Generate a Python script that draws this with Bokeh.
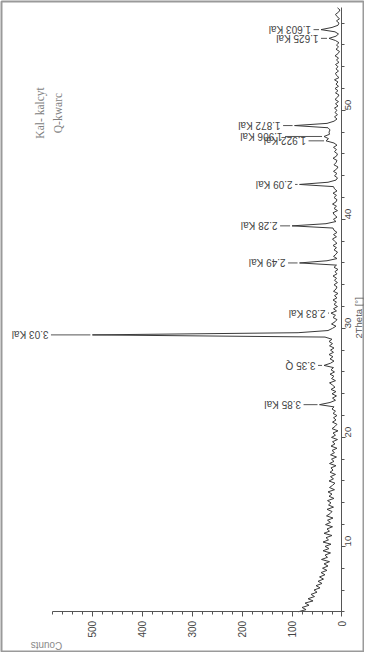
import math
from bokeh.plotting import figure
from bokeh.models import Range1d, FixedTicker, Label, ColumnDataSource, LinearAxis
from bokeh.core.properties import value
from bokeh.embed import file_html
from bokeh.resources import INLINE

# ---------------- data ----------------
scan_start = 4.0   # 2Theta of first point [deg]
scan_step = 0.2    # scan step [deg]

counts = [
    88, 72, 80, 66, 74, 58, 68, 55, 62, 50,    # 4.0
    56, 44, 52, 40, 48, 37, 45, 34, 42, 30,    # 6.0
    39, 28, 36, 25, 41, 29, 34, 23, 38, 26,    # 8.0
    34, 22, 38, 27, 32, 20, 36, 25, 30, 19,    # 10.0
    33, 23, 29, 18, 31, 24, 20, 30, 17, 27,    # 12.0
    22, 29, 16, 26, 20, 28, 15, 25, 19, 14,    # 14.0
    26, 17, 23, 13, 24, 18, 22, 12, 25, 16,    # 16.0
    21, 11, 23, 15, 20, 10, 22, 14, 19, 9,     # 18.0
    21, 13, 18, 8, 20, 14, 10, 19, 12, 17,     # 20.0
    10, 18, 13, 20, 16, 45, 24, 13, 19, 11,    # 22.0
    20, 12, 22, 14, 19, 25, 13, 21, 16, 24,    # 24.0
    15, 22, 17, 36, 23, 16, 24, 18, 26, 17,    # 26.0
    23, 16, 25, 19, 26, 20, 34, 500, 88, 28,   # 28.0
    19, 12, 21, 14, 10, 18, 13, 22, 11, 17,    # 30.0
    9, 16, 11, 18, 10, 15, 8, 17, 12, 10,      # 32.0
    16, 9, 15, 11, 18, 10, 14, 8, 16, 11,      # 34.0
    85, 30, 10, 17, 12, 9, 16, 11, 18, 10,     # 36.0
    15, 19, 11, 17, 10, 16, 18, 100, 32, 12,   # 38.0
    17, 10, 15, 18, 9, 16, 11, 19, 12, 10,     # 40.0
    16, 11, 18, 10, 15, 17, 85, 28, 12, 9,     # 42.0
    15, 10, 17, 11, 8, 16, 12, 10, 18, 11,     # 44.0
    9, 15, 11, 17, 10, 16, 32, 27, 36, 25,     # 46.0
    26, 24, 28, 95, 30, 16, 10, 15, 9, 14,     # 48.0
    10, 15, 8, 13, 7, 14, 9, 6, 13, 8,         # 50.0
    14, 7, 12, 8, 15, 6, 11, 13, 7, 12,        # 52.0
    8, 13, 6, 11, 7, 14, 8, 5, 12, 7,          # 54.0
    11, 6, 13, 26, 12, 7, 14, 42, 20, 8,       # 56.0
    6, 11, 5, 10, 13, 7, 4, 9,                 # 58.0
]
two_theta = [round(scan_start + scan_step * i, 1) for i in range(len(counts))]

peak_labels = ["3.85 Kal", "3.35 Q", "3.03 Kal", "2.83 Kal", "2.49 Kal", "2.28 Kal",
               "2.09 Kal", "1.922 Kal", "1.906 Kal", "1.872 Kal", "1.625 Kal", "1.603 Kal"]
peak_2theta = [23.0, 26.6, 29.4, 31.4, 36.0, 39.4, 43.2, 47.2, 47.6, 48.6, 56.6, 57.4]
label_counts = [82, 53, 588, 33, 113, 129, 99, 72, 119, 123, 47, 62]

legend_lines = ["Kal- kalcyt", "Q-kwarc"]
count_ticks = [0, 100, 200, 300, 400, 500]
count_minor = [20 * k for k in range(30)]
theta_ticks = [10, 20, 30, 40, 50]
theta_minor = [4 + 2 * k for k in range(28)]

# ---------------- figure ----------------
p = figure(width=364, height=652, output_backend="svg", toolbar_location=None,
           x_range=Range1d(682.1, -43.1), y_range=Range1d(0.36, 59.98),
           y_axis_location="right",
           min_border_left=1, min_border_top=1, min_border_right=1, min_border_bottom=1)
p.outline_line_color = "#9a9a9a"
p.outline_line_width = 2
p.grid.visible = False
p.background_fill_color = "white"
p.border_fill_color = "white"

ink = "#3a3a3a"
p.line(counts, two_theta, line_color=ink, line_width=1)

# leaders from labels to peak tops
idx = [round((t - scan_start) / scan_step) for t in peak_2theta]
lead_x0, lead_x1, lead_y = [], [], []
for lc, t, i in zip(label_counts, peak_2theta, idx):
    s = lc - 5
    e = counts[i] + 4
    if s > e:
        lead_x0.append(s); lead_x1.append(e); lead_y.append(t)
p.segment(x0=lead_x0, y0=lead_y, x1=lead_x1, y1=lead_y, line_color="#555555", line_width=1)

src = ColumnDataSource(dict(x=label_counts, y=peak_2theta, t=peak_labels))
p.text(x="x", y="y", text="t", source=src, angle=math.pi, text_align="left",
       text_baseline="middle", text_font=value("Liberation Sans"),
       text_font_size="10px", text_color="#444444")

# legend text (rotated)
p.add_layout(Label(x=604, y=47.4, text=legend_lines[0], angle=math.pi / 2,
                   text_align="left", text_baseline="middle",
                   text_font="Liberation Serif", text_font_size="11.5px", text_color="#808080"))
p.add_layout(Label(x=569, y=47.9, text=legend_lines[1], angle=math.pi / 2,
                   text_align="left", text_baseline="middle",
                   text_font="Liberation Serif", text_font_size="11.5px", text_color="#808080"))

# Counts title (upside down, near the far end of the counts axis)
p.add_layout(Label(x=592, y=0.95, text="Counts", angle=math.pi,
                   text_align="center", text_baseline="middle",
                   text_font="Liberation Sans", text_font_size="10px", text_color="#8a8a8a"))

# axes, drawn at fixed data locations inside the frame
xa = p.xaxis[0]
xa.fixed_location = 4.0
xa.bounds = (0, 580)
xa.ticker = FixedTicker(ticks=count_ticks, minor_ticks=count_minor)
xa.major_label_orientation = math.pi / 2
xa.major_label_text_font = "Liberation Sans"
xa.major_label_text_font_size = "10px"
xa.major_label_text_color = "#444444"
xa.major_label_standoff = 4
xa.axis_line_color = "#555555"
xa.major_tick_line_color = "#555555"
xa.minor_tick_line_color = "#555555"
xa.major_tick_out = 5
xa.major_tick_in = 0
xa.minor_tick_out = 3
xa.minor_tick_in = 0

ya = p.yaxis[0]
ya.fixed_location = 0
ya.bounds = (4.0, 59.4)
ya.ticker = FixedTicker(ticks=theta_ticks, minor_ticks=theta_minor)
ya.major_label_orientation = math.pi / 2
ya.major_label_text_font = "Liberation Sans"
ya.major_label_text_font_size = "9.5px"
ya.major_label_text_color = "#444444"
ya.major_label_standoff = 2
ya.axis_line_color = "#555555"
ya.major_tick_line_color = "#555555"
ya.minor_tick_line_color = "#555555"
ya.major_tick_out = 4
ya.major_tick_in = 0
ya.minor_tick_out = 3
ya.minor_tick_in = 0

# a tick-less companion axis that only carries the 2Theta title, centred lower
ta = LinearAxis(fixed_location=0, bounds=(28.1, 30.1),
                ticker=FixedTicker(ticks=[], minor_ticks=[]),
                axis_line_color=None, major_tick_line_color=None, minor_tick_line_color=None,
                major_label_text_font_size="0px",
                axis_label="2Theta [°]", axis_label_standoff=17,
                axis_label_orientation=math.pi / 2,
                axis_label_text_font="Liberation Sans", axis_label_text_font_style="normal",
                axis_label_text_font_size="9.5px", axis_label_text_color="#555555")
p.add_layout(ta, "right")

open("out.html", "w").write(file_html(p, INLINE))
